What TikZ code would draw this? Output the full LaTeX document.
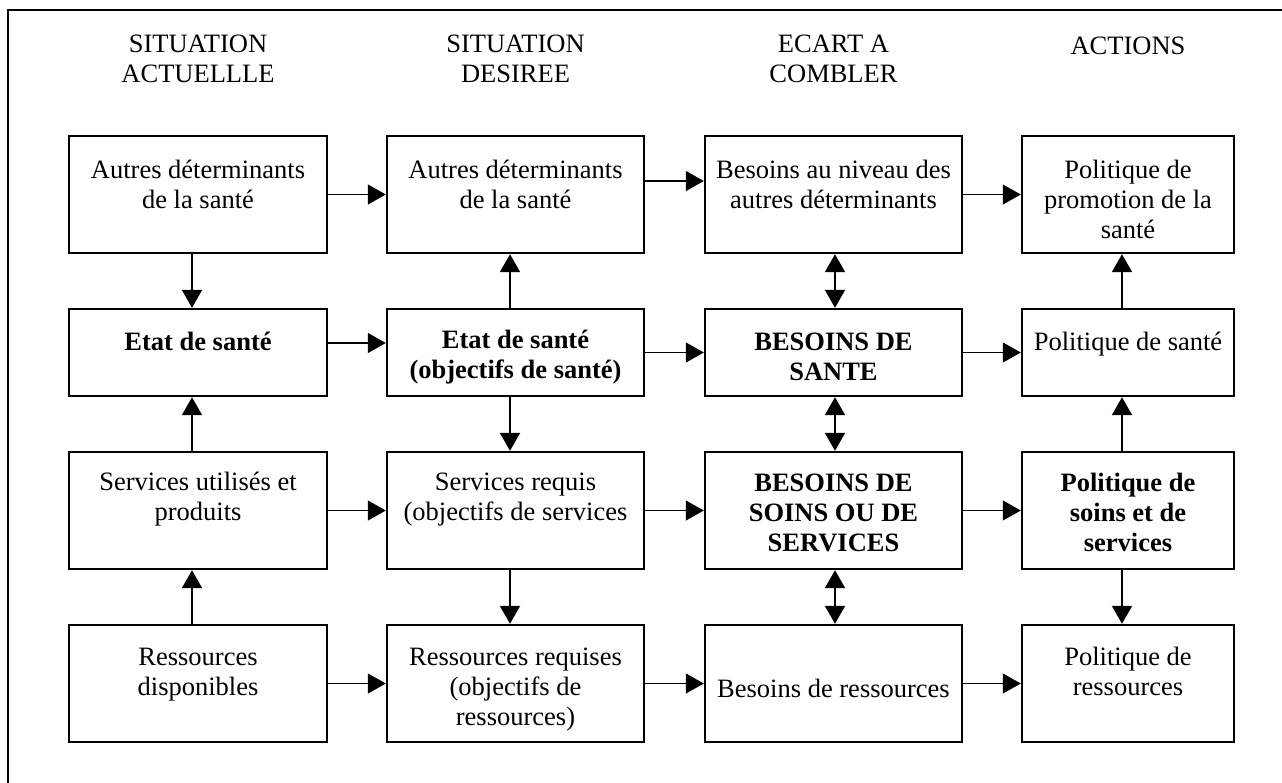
\documentclass[tikz,border=0pt]{standalone}
\usepackage{fontspec}
\setmainfont{Liberation Serif}
\usetikzlibrary{arrows.meta}
\begin{document}
\begin{tikzpicture}[x=0.5pt,y=-0.5pt,
  box/.style={draw,line width=1.2pt,minimum height=58.5pt,inner sep=0pt},
  short/.style={minimum height=43.5pt},
  c1/.style={minimum width=129pt},
  c2/.style={minimum width=128.5pt},
  c3/.style={minimum width=128.5pt},
  c4/.style={minimum width=106pt},
  txt/.style={align=center,inner sep=0pt,font=\fontsize{13.25}{15}\selectfont,
    execute at begin node=\strut,execute at end node=\strut},
  btxt/.style={txt,font=\fontsize{13.25}{15}\selectfont\bfseries},
  tip/.tip={Triangle[length=9pt,width=10pt]},
  arr/.style={-tip,line width=0.6pt},
  varr/.style={-tip,line width=1pt},
  darr/.style={tip-tip,line width=1pt}]
\useasboundingbox (0,0) rectangle (1282,783);
% outer frame (only top and left edges visible)
\draw[line width=1.4pt] (8,783) -- (8,10) -- (1282,10);
% headers
\node[txt] (h1) at (198,63) {SITUATION\\ACTUELLLE};
\node[txt] (h2) at (515.5,63) {SITUATION\\DESIREE};
\node[txt] (h3) at (833.5,63) {ECART A\\COMBLER};
\node[txt] (h4) at (1128,48) {ACTIONS};
% boxes row 1
\node[box,c1] (a1) at (198,194.5) {};
\node[box,c2] (b1) at (515.5,194.5) {};
\node[box,c3] (e1) at (833.5,194.5) {};
\node[box,c4] (p1) at (1128,194.5) {};
% row 2
\node[box,short,c1] (a2) at (198,352.5) {};
\node[box,short,c2] (b2) at (515.5,352.5) {};
\node[box,short,c3] (e2) at (833.5,352.5) {};
\node[box,short,c4] (p2) at (1128,352.5) {};
% row 3
\node[box,c1] (a3) at (198,510.5) {};
\node[box,c2] (b3) at (515.5,510.5) {};
\node[box,c3] (e3) at (833.5,510.5) {};
\node[box,c4] (p3) at (1128,510.5) {};
% row 4
\node[box,c1] (a4) at (198,683.5) {};
\node[box,c2] (b4) at (515.5,683.5) {};
\node[box,c3] (e4) at (833.5,683.5) {};
\node[box,c4] (p4) at (1128,683.5) {};
% texts
\node[txt] (a1t) at (198,189) {Autres déterminants\\de la santé};
\node[txt] (b1t) at (515.5,189) {Autres déterminants\\de la santé};
\node[txt] (e1t) at (833.5,189) {Besoins au niveau des\\autres déterminants};
\node[txt] (p1t) at (1128,204) {Politique de\\promotion de la\\santé};
\node[btxt] (a2t) at (198,344) {Etat de santé};
\node[btxt] (b2t) at (515.5,359) {Etat de santé\\(objectifs de santé)};
\node[btxt] (e2t) at (833.5,361) {BESOINS DE\\SANTE};
\node[txt] (p2t) at (1128,344) {Politique de santé};
\node[txt] (a3t) at (198,501) {Services utilisés et\\produits};
\node[txt] (b3t) at (515.5,501) {Services requis\\(objectifs de services};
\node[btxt] (e3t) at (833.5,517) {BESOINS DE\\SOINS OU DE\\SERVICES};
\node[btxt] (p3t) at (1128,517) {Politique de\\soins et de\\services};
\node[txt] (a4t) at (198,676) {Ressources\\disponibles};
\node[txt] (b4t) at (515.5,691) {Ressources requises\\(objectifs de\\ressources)};
\node[txt] (e4t) at (833.5,691) {Besoins de ressources};
\node[txt] (p4t) at (1128,676) {Politique de\\ressources};
% horizontal arrows
\draw[arr] (a1) -- (b1);
\draw[arr] ([yshift=6.75pt]b1.east) -- ([yshift=6.75pt]e1.west);
\draw[arr] (e1) -- (p1);
\draw[arr] ([yshift=4.75pt]a2.east) -- ([yshift=4.75pt]b2.west);
\draw[arr] (b2) -- (e2);
\draw[arr] (e2) -- (p2);
\draw[arr] (a3) -- (b3);
\draw[arr] (b3) -- (e3);
\draw[arr] (e3) -- (p3);
\draw[arr] (a4) -- (b4);
\draw[arr] (b4) -- (e4);
\draw[arr] (e4) -- (p4);
% vertical arrows column 1
\draw[varr] ([xshift=-3pt]a1.south) -- ([xshift=-3pt]a2.north);
\draw[varr] ([xshift=-3pt]a3.north) -- ([xshift=-3pt]a2.south);
\draw[varr] ([xshift=-3pt]a4.north) -- ([xshift=-3pt]a3.south);
% column 2
\draw[varr] ([xshift=-2.75pt]b2.north) -- ([xshift=-2.75pt]b1.south);
\draw[varr] ([xshift=-2.75pt]b2.south) -- ([xshift=-2.75pt]b3.north);
\draw[varr] ([xshift=-2.75pt]b3.south) -- ([xshift=-2.75pt]b4.north);
% column 3
\draw[darr] ([xshift=0.75pt]e1.south) -- ([xshift=0.75pt]e2.north);
\draw[darr] ([xshift=0.75pt]e2.south) -- ([xshift=0.75pt]e3.north);
\draw[darr] ([xshift=0.75pt]e3.south) -- ([xshift=0.75pt]e4.north);
% column 4
\draw[varr] ([xshift=-3pt]p2.north) -- ([xshift=-3pt]p1.south);
\draw[varr] ([xshift=-3pt]p3.north) -- ([xshift=-3pt]p2.south);
\draw[varr] ([xshift=-3pt]p3.south) -- ([xshift=-3pt]p4.north);
\end{tikzpicture}
\end{document}
